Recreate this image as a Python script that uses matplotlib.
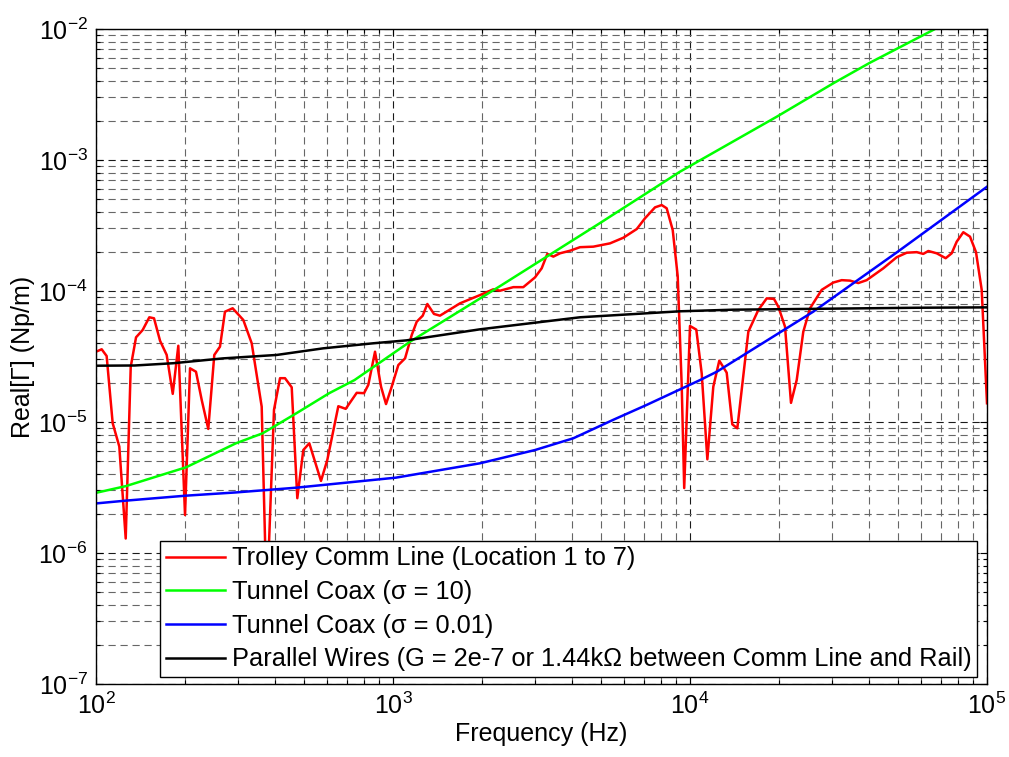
import numpy as np
import matplotlib
matplotlib.use("Agg")
import matplotlib.pyplot as plt
from matplotlib.ticker import LogLocator, NullFormatter, LogFormatterSciNotation

plt.rcParams['font.family'] = ['Liberation Sans', 'DejaVu Sans']
plt.rcParams['mathtext.fontset'] = 'custom'
plt.rcParams['mathtext.rm'] = 'Liberation Sans'
plt.rcParams['mathtext.it'] = 'Liberation Sans:italic'
plt.rcParams['mathtext.bf'] = 'Liberation Sans:bold'

# Measured attenuation along the trolley communication line
trolley_freq = [
    100, 104.5, 108.6, 113.8, 119.8, 125.9, 130.9, 136.4, 143.6, 151.2,
    156.8, 164.3, 173, 181.3, 189.3, 199.4, 207.3, 217.1, 227, 238.8,
    250.2, 261.5, 271.8, 288.5, 313.3, 334.4, 361.3, 375.6, 397.5, 416.5,
    432.9, 456, 476.2, 498.9, 522.6, 572.2, 600.9, 654.5, 693, 754.8,
    798.9, 825.8, 869.9, 911.4, 947.3, 990, 1042, 1098, 1156, 1202,
    1259, 1305, 1374, 1439, 1681, 1963, 2176, 2293, 2542, 2746,
    3007, 3167, 3308, 3466, 3650, 3945, 4262, 4725, 5378, 5963,
    6616, 7055, 7624, 8029, 8346, 8746, 9090, 9376, 9561, 10000,
    10500, 10950, 11440, 11980, 12550, 13290, 13880, 14430, 15720, 16980,
    18130, 19180, 19830, 20890, 21880, 22870, 24070, 25360, 27760, 30370,
    32420, 34570, 36870, 39340, 44760, 49650, 53660, 57990, 61020, 63450,
    67710, 72590, 76050, 79070, 83220, 87660, 91830, 95980, 100000,
]
trolley_gamma = [
    3.44e-5, 3.59e-5, 3.19e-5, 9.8e-6, 6.5e-6, 1.29e-6, 2.64e-5, 4.43e-5, 5.04e-5, 6.30e-5,
    6.19e-5, 4.17e-5, 3.25e-5, 1.64e-5, 3.82e-5, 1.95e-6, 2.57e-5, 2.42e-5, 1.47e-5, 8.85e-6,
    3.25e-5, 3.76e-5, 6.95e-5, 7.38e-5, 6.01e-5, 3.99e-5, 1.31e-5, 4.0e-7, 1.24e-5, 2.16e-5,
    2.16e-5, 1.84e-5, 2.62e-6, 6.11e-6, 6.88e-6, 3.55e-6, 5.13e-6, 1.32e-5, 1.26e-5, 1.67e-5,
    1.66e-5, 1.92e-5, 3.44e-5, 1.86e-5, 1.37e-5, 1.86e-5, 2.72e-5, 3.06e-5, 4.61e-5, 5.83e-5,
    6.48e-5, 7.96e-5, 6.68e-5, 6.48e-5, 8.05e-5, 9.31e-5, 1.03e-4, 1.005e-4, 1.07e-4, 1.07e-4,
    1.27e-4, 1.49e-4, 1.92e-4, 1.83e-4, 1.94e-4, 2.03e-4, 2.16e-4, 2.18e-4, 2.31e-4, 2.55e-4,
    2.97e-4, 3.59e-4, 4.35e-4, 4.53e-4, 4.28e-4, 2.92e-4, 1.30e-4, 1.92e-5, 3.13e-6, 5.41e-5,
    5.07e-5, 2.35e-5, 5.19e-6, 1.86e-5, 2.94e-5, 2.38e-5, 9.6e-6, 8.95e-6, 4.89e-5, 7.16e-5,
    8.79e-5, 8.7e-5, 7.59e-5, 5.34e-5, 1.40e-5, 2.09e-5, 4.89e-5, 7.38e-5, 1.02e-4, 1.16e-4,
    1.21e-4, 1.20e-4, 1.15e-4, 1.21e-4, 1.49e-4, 1.81e-4, 1.96e-4, 1.98e-4, 1.92e-4, 2.02e-4,
    1.94e-4, 1.78e-4, 1.94e-4, 2.38e-4, 2.81e-4, 2.60e-4, 1.98e-4, 1.02e-4, 1.39e-5,
]

# Tunnel coax, sigma = 10
coax10_freq = [100, 126, 201, 296, 364, 471, 610, 742, 1141, 2293, 4977,
               9250, 19590, 30370, 40360, 66830, 70000]
coax10_gamma = [2.88e-6, 3.24e-6, 4.51e-6, 6.88e-6, 8.2e-6, 1.16e-5, 1.66e-5,
                2.09e-5, 4.1e-5, 1.09e-4, 3.3e-4, 8.14e-4, 2.14e-3, 3.85e-3,
                5.53e-3, 1.0e-2, 1.06e-2]

# Tunnel coax, sigma = 0.01
coax001_freq = [100, 126, 201, 296, 471, 1023, 1963, 3007, 4046, 5520, 7145,
                10810, 12310, 25990, 50130, 100000]
coax001_gamma = [2.39e-6, 2.51e-6, 2.74e-6, 2.90e-6, 3.15e-6, 3.76e-6, 4.84e-6,
                 6.11e-6, 7.51e-6, 1.04e-5, 1.35e-5, 2.09e-5, 2.42e-5, 6.95e-5,
                 2.0e-4, 6.25e-4]

# Parallel wires, G = 2e-7
wires_freq = [100, 135, 182, 268, 406, 582, 859, 1111, 1963, 4262, 9250,
              13960, 25000, 57990, 100000]
wires_gamma = [2.69e-5, 2.70e-5, 2.81e-5, 3.06e-5, 3.25e-5, 3.65e-5, 3.99e-5,
               4.2e-5, 5.1e-5, 6.3e-5, 7.0e-5, 7.2e-5, 7.3e-5, 7.45e-5, 7.5e-5]

series_labels = [
    'Trolley Comm Line (Location 1 to 7)',
    'Tunnel Coax (σ = 10)',
    'Tunnel Coax (σ = 0.01)',
    'Parallel Wires (G = 2e-7 or 1.44kΩ between Comm Line and Rail)',
]

W, H = 1009, 757
fig = plt.figure(figsize=(W / 100, H / 100), dpi=100)
ax = fig.add_axes([96 / W, 73 / H, 891 / W, 655 / H])

lw = 1.8
ax.plot(trolley_freq, trolley_gamma, color='#ff0000', lw=lw, label=series_labels[0])
ax.plot(coax10_freq, coax10_gamma, color='#00ff00', lw=lw, label=series_labels[1])
ax.plot(coax001_freq, coax001_gamma, color='#0000ff', lw=lw, label=series_labels[2])
ax.plot(wires_freq, wires_gamma, color='#000000', lw=lw, label=series_labels[3])

ax.set_xscale('log')
ax.set_yscale('log')
ax.set_xlim(1e2, 1e5)
ax.set_ylim(1e-7, 1e-2)

for axis in (ax.xaxis, ax.yaxis):
    axis.set_major_locator(LogLocator(base=10, numticks=20))
    axis.set_minor_locator(LogLocator(base=10, subs=np.arange(2, 10), numticks=20))
    axis.set_minor_formatter(NullFormatter())
    axis.set_major_formatter(LogFormatterSciNotation())

dash = (0, (6.5, 4.3))
ax.grid(which='major', linestyle=dash, color='#1a1a1a', lw=0.8)
ax.grid(which='minor', linestyle=dash, color='#666666', lw=0.8)
ax.set_axisbelow(True)

ax.tick_params(which='both', direction='in', top=True, right=True, width=0.8)
ax.tick_params(which='major', length=5, labelsize=18, pad=6)
ax.tick_params(which='minor', length=3)
for s in ax.spines.values():
    s.set_linewidth(1.0)

ax.set_xlabel('Frequency (Hz)', fontsize=18, labelpad=2)
ax.set_ylabel('Real[Γ] (Np/m)', fontsize=18, labelpad=2)

x0 = (160 - 96) / 891
wdt = (977 - 160) / 891
leg = ax.legend(loc='lower left', bbox_to_anchor=(x0, 0.0107, wdt, 0),
                mode='expand', borderaxespad=0, fontsize=18.3, fancybox=False,
                framealpha=1, edgecolor='black', handlelength=2.33,
                handletextpad=0.28, labelspacing=0.38, borderpad=0.22)
leg.get_frame().set_linewidth(1.0)
for line in leg.get_lines():
    line.set_linewidth(lw)

fig.savefig('out.png', dpi=100)
